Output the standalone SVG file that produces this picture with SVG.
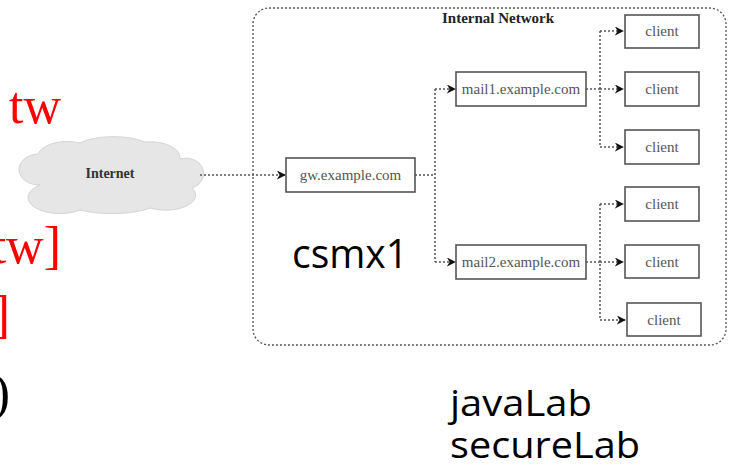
<svg xmlns="http://www.w3.org/2000/svg" width="732" height="475" viewBox="0 0 732 475">
<defs>
<marker id="arr" viewBox="0 0 10 10" refX="9" refY="5" markerWidth="9" markerHeight="9" markerUnits="userSpaceOnUse" orient="auto">
<path d="M0,0 L10,5 L0,10 L3,5 Z" fill="#111"/>
</marker>
</defs>
<style>
.red{font-family:"Liberation Serif",serif;font-size:52px;fill:#ff0000}
.blk{font-family:"Liberation Serif",serif;font-size:52px;fill:#000}
.sans{font-family:"Open Sans","Noto Sans",sans-serif;font-size:40px;fill:#000}
.sm{font-size:37px}
.box{fill:#fff;stroke:#555;stroke-width:1.6}
.lbl{font-family:"Liberation Serif",serif;font-size:15px;fill:#555;text-anchor:middle}
.bold{font-family:"Liberation Serif",serif;font-size:15px;font-weight:bold;fill:#222;text-anchor:middle}
.con{fill:none;stroke:#555;stroke-width:1.5;stroke-dasharray:2,2}
</style>
<rect width="732" height="475" fill="#fff"/>
<g id="side-text">
<text class="red" x="61" y="123" text-anchor="end">tw</text>
<text class="red" x="61" y="263" text-anchor="end">tw]</text>
<text class="red" x="10" y="332" text-anchor="end">]</text>
<text class="blk" x="10" y="410" text-anchor="end">)</text>
</g>
<g id="internal-network">
<rect x="253" y="8" width="473" height="337" rx="16" fill="none" stroke="#555" stroke-width="1.3" stroke-dasharray="2,2"/>
<text class="bold" x="498" y="23">Internal Network</text>
</g>
<g id="internet">
<path d="M40,185 A18,14 0 0 1 38,154 A30,16 0 0 1 80,143 A40,14 0 0 1 145,142 A30,16 0 0 1 180,159 A16,14 0 0 1 192,188 A30,15 0 0 1 150,208 A45,12 0 0 1 80,210 A28,14 0 0 1 40,185 Z" fill="#e6e6e6" stroke="#d4d4d4" stroke-width="1"/>
<text class="bold" x="110" y="178" style="font-size:14px;fill:#333">Internet</text>
</g>
<g id="connectors">
<path class="con" d="M200,175 H285" marker-end="url(#arr)"/>
<path class="con" d="M415,175 H435"/>
<path class="con" d="M435,89 V262"/>
<path class="con" d="M435,89 H455" marker-end="url(#arr)"/>
<path class="con" d="M435,262 H455" marker-end="url(#arr)"/>
<path class="con" d="M586,89 H600"/>
<path class="con" d="M600,31 V147"/>
<path class="con" d="M600,31 H623" marker-end="url(#arr)"/>
<path class="con" d="M600,89 H623" marker-end="url(#arr)"/>
<path class="con" d="M600,147 H623" marker-end="url(#arr)"/>
<path class="con" d="M586,262 H600"/>
<path class="con" d="M600,204 V320"/>
<path class="con" d="M600,204 H623" marker-end="url(#arr)"/>
<path class="con" d="M600,262 H623" marker-end="url(#arr)"/>
<path class="con" d="M600,320 H625" marker-end="url(#arr)"/>
</g>
<g id="gw"><rect class="box" x="286" y="158" width="129" height="34"/><text class="lbl" x="350.5" y="180">gw.example.com</text></g>
<g id="mail1"><rect class="box" x="456" y="72" width="130" height="34"/><text class="lbl" x="521" y="94">mail1.example.com</text></g>
<g id="mail2"><rect class="box" x="456" y="245" width="130" height="34"/><text class="lbl" x="521" y="267">mail2.example.com</text></g>
<g id="client1"><rect class="box" x="625" y="15" width="74" height="33"/><text class="lbl" x="662" y="36">client</text></g>
<g id="client2"><rect class="box" x="625" y="72" width="74" height="34"/><text class="lbl" x="662" y="94">client</text></g>
<g id="client3"><rect class="box" x="625" y="130" width="74" height="34"/><text class="lbl" x="662" y="152">client</text></g>
<g id="client4"><rect class="box" x="625" y="187" width="74" height="34"/><text class="lbl" x="662" y="209">client</text></g>
<g id="client5"><rect class="box" x="625" y="245" width="74" height="33"/><text class="lbl" x="662" y="267">client</text></g>
<g id="client6"><rect class="box" x="627" y="303" width="74" height="33"/><text class="lbl" x="664" y="325">client</text></g>
<g id="labels">
<text class="sans" x="292" y="268" textLength="116" lengthAdjust="spacingAndGlyphs">csmx1</text>
<text class="sans sm" x="450" y="416" textLength="142" lengthAdjust="spacingAndGlyphs">javaLab</text>
<text class="sans sm" x="450" y="458" textLength="190" lengthAdjust="spacingAndGlyphs">secureLab</text>
</g>
</svg>
